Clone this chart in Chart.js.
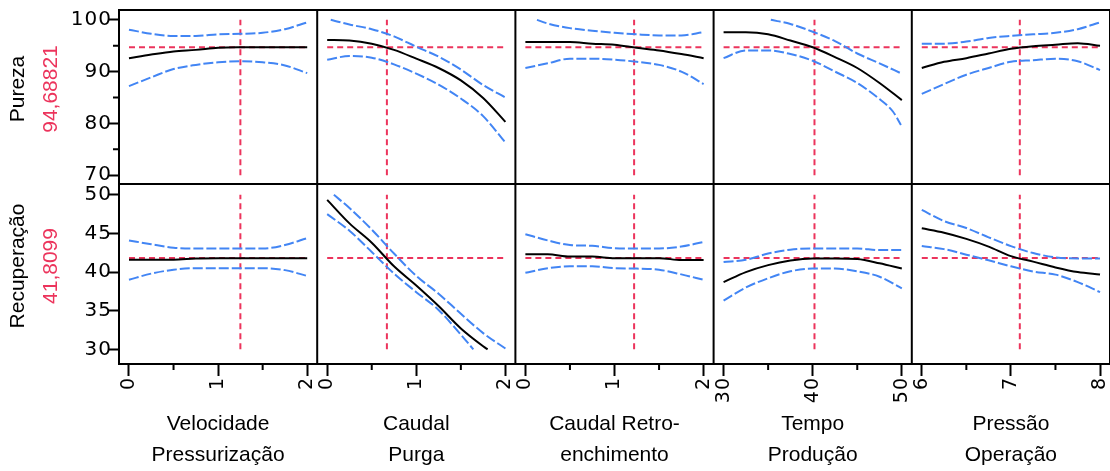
<!DOCTYPE html>
<html>
<head>
<meta charset="utf-8">
<script src="https://cdn.jsdelivr.net/npm/chart.js@4"></script>
<style>
  html, body { margin: 0; padding: 0; background: #fff; }
  #wrap { width: 1110px; height: 471px; position: relative; }
</style>
</head>
<body>
<div id="wrap"><canvas id="profiler" width="1110" height="471"></canvas></div>
<script>
// factors (columns)
const factorNames = [
  ['Velocidade', 'Pressurização'],
  ['Caudal', 'Purga'],
  ['Caudal Retro-', 'enchimento'],
  ['Tempo', 'Produção'],
  ['Pressão', 'Operação']
];
const factorRanges = [[0, 2], [0, 2], [0, 2], [30, 50], [6, 8]];
const factorMajorTicks = [[0, 1, 2], [0, 1, 2], [0, 1, 2], [30, 40, 50], [6, 7, 8]];
const factorMinorTicks = [[0.5, 1.5], [0.5, 1.5], [0.5, 1.5], [35, 45], [6.5, 7.5]];
const factorCurrent = [1.25, 0.67, 1.22, 40.2, 7.1];

// responses (rows)
const responseNames = ['Pureza', 'Recuperação'];
const responseCurrent = [94.68821, 41.8099];
const responseLabels = ['94,68821', '41,8099'];
const responseRanges = [[70, 100], [30, 50]];
const responseMajorTicks = [[70, 80, 90, 100], [30, 35, 40, 45, 50]];
const responseMinorTicks = [[75, 85, 95], []];

// Pureza: prediction and confidence limits, one [x, y] list per factor
const purezaPred = [
  [[0, 92.6], [0.25, 93.3], [0.5, 93.9], [0.75, 94.2], [1, 94.6], [1.25, 94.69], [1.5, 94.7], [1.75, 94.7], [2, 94.7]],
  [[0, 96.1], [0.25, 96.0], [0.5, 95.4], [0.75, 94.2], [1, 92.5], [1.25, 90.7], [1.5, 88.3], [1.75, 84.9], [2, 80.3]],
  [[0, 95.7], [0.25, 95.7], [0.5, 95.7], [0.75, 95.4], [1, 95.2], [1.25, 94.6], [1.5, 94.1], [1.75, 93.4], [2, 92.6]],
  [[30, 97.6], [32.5, 97.6], [35, 97.2], [37.5, 96.0], [40, 94.7], [42.5, 92.8], [45, 90.7], [47.5, 87.8], [50, 84.5]],
  [[6, 90.7], [6.25, 91.9], [6.5, 92.6], [6.75, 93.5], [7, 94.4], [7.25, 94.9], [7.5, 95.2], [7.75, 95.5], [8, 95.0]]
];
const purezaUpper = [
  [[0, 98.1], [0.25, 97.3], [0.5, 96.9], [0.75, 96.9], [1, 97.2], [1.25, 97.3], [1.5, 97.5], [1.75, 98.2], [2, 99.5]],
  [[0.04, 100], [0.25, 99.1], [0.5, 98.2], [0.75, 96.8], [1, 94.8], [1.25, 92.9], [1.5, 90.4], [1.75, 87.4], [2, 85.0]],
  [[0.13, 100], [0.25, 99.3], [0.5, 98.4], [0.75, 97.9], [1, 97.5], [1.25, 97.2], [1.5, 97.0], [1.75, 97.0], [2, 97.6]],
  [[35.3, 100], [37.5, 99.2], [40, 97.7], [42.5, 95.9], [45, 93.5], [47.5, 91.6], [50, 89.6]],
  [[6, 95.4], [6.25, 95.4], [6.5, 95.8], [6.75, 96.5], [7, 96.9], [7.25, 97.2], [7.5, 97.5], [7.75, 98.2], [8, 99.5]]
];
const purezaLower = [
  [[0, 87.2], [0.25, 88.9], [0.5, 90.5], [0.75, 91.3], [1, 91.8], [1.25, 92.0], [1.5, 91.8], [1.75, 91.2], [2, 89.7]],
  [[0, 92.3], [0.25, 93.0], [0.5, 92.7], [0.75, 91.4], [1, 89.6], [1.25, 87.5], [1.5, 84.8], [1.75, 81.4], [2, 76.3]],
  [[0, 90.7], [0.25, 91.6], [0.5, 92.5], [0.75, 92.5], [1, 92.3], [1.25, 91.9], [1.5, 91.3], [1.75, 90.0], [2, 87.6]],
  [[30, 92.6], [32.5, 94.1], [35, 94.1], [37.5, 93.4], [40, 92.1], [42.5, 90.0], [45, 87.8], [47.5, 84.7], [49, 82.3], [49.9, 79.7]],
  [[6, 85.7], [6.25, 87.6], [6.5, 89.4], [6.75, 90.7], [7, 91.9], [7.25, 92.2], [7.5, 92.5], [7.75, 92.0], [8, 90.3]]
];

// Recuperação: prediction and confidence limits
const recupPred = [
  [[0, 41.6], [0.25, 41.6], [0.5, 41.6], [0.75, 41.76], [1, 41.8], [1.25, 41.8], [1.5, 41.8], [1.75, 41.8], [2, 41.8]],
  [[0, 49.35], [0.25, 46.3], [0.5, 43.8], [0.75, 40.75], [1, 38.26], [1.25, 35.6], [1.5, 32.7], [1.75, 30.4], [1.8, 30]],
  [[0, 42.3], [0.25, 42.3], [0.5, 42.0], [0.75, 42.0], [1, 41.8], [1.25, 41.8], [1.5, 41.8], [1.75, 41.55], [2, 41.55]],
  [[30, 38.7], [32.5, 40.0], [35, 40.9], [37.5, 41.5], [40, 41.76], [42.5, 41.76], [45, 41.68], [47.5, 41.14], [50, 40.45]],
  [[6, 45.66], [6.25, 45.1], [6.5, 44.3], [6.75, 43.3], [7, 42.06], [7.25, 41.35], [7.5, 40.6], [7.75, 40.0], [8, 39.7]]
];
const recupUpper = [
  [[0, 44.1], [0.25, 43.6], [0.5, 43.15], [0.75, 43.05], [1, 43.05], [1.25, 43.05], [1.5, 43.05], [1.75, 43.5], [2, 44.4]],
  [[0.075, 50], [0.25, 48.3], [0.5, 45.5], [0.75, 42.4], [1, 39.5], [1.25, 37.2], [1.5, 34.6], [1.75, 32.1], [2, 30.1]],
  [[0, 44.9], [0.25, 44.1], [0.5, 43.5], [0.75, 43.4], [1, 43.1], [1.25, 43.06], [1.5, 43.06], [1.75, 43.3], [2, 43.9]],
  [[30, 41.3], [32.5, 41.6], [35, 42.4], [37.5, 42.9], [40, 43.06], [42.5, 43.06], [45, 43.06], [47.5, 42.85], [50, 42.85]],
  [[6, 48.05], [6.25, 46.6], [6.5, 45.7], [6.75, 44.5], [7, 43.36], [7.25, 42.46], [7.5, 41.9], [7.75, 41.76], [8, 41.76]]
];
const recupLower = [
  [[0, 39.0], [0.25, 39.8], [0.5, 40.3], [0.75, 40.5], [1, 40.5], [1.25, 40.5], [1.5, 40.5], [1.75, 40.25], [2, 39.5]],
  [[0, 47.5], [0.25, 45.35], [0.5, 42.6], [0.75, 39.8], [1, 37.4], [1.25, 35.1], [1.5, 31.9], [1.64, 30]],
  [[0, 39.9], [0.25, 40.5], [0.5, 40.75], [0.75, 40.75], [1, 40.5], [1.25, 40.45], [1.5, 40.3], [1.75, 39.7], [2, 39.0]],
  [[30, 36.3], [32.5, 38.0], [35, 39.2], [37.5, 40.1], [40, 40.45], [42.5, 40.45], [45, 40.1], [47.5, 39.4], [50, 37.9]],
  [[6, 43.36], [6.25, 42.97], [6.5, 42.25], [6.75, 41.52], [7, 40.75], [7.25, 40.07], [7.5, 39.67], [7.75, 38.7], [8, 37.4]]
];

const FONT = '"Liberation Sans", Arial, sans-serif';
const TICK_FONT = '"DejaVu Sans", sans-serif';
const BLUE = 'rgb(66,133,244)';
const RED = 'rgb(236,52,92)';

const curves = [
  [purezaPred, purezaUpper, purezaLower],
  [recupPred, recupUpper, recupLower]
];

function toPoints(list) {
  return list.map(([x, y]) => ({ x, y }));
}

const datasets = [];
responseNames.forEach((resp, r) => {
  const [pred, upper, lower] = curves[r];
  factorNames.forEach((f, i) => {
    const axes = { xAxisID: 'x' + i, yAxisID: 'y' + r };
    datasets.push({
      ...axes, data: toPoints(pred[i]), borderColor: '#000', borderWidth: 2,
      cubicInterpolationMode: 'monotone', order: 0
    });
    [upper[i], lower[i]].forEach(band => datasets.push({
      ...axes, data: toPoints(band), borderColor: BLUE, borderWidth: 2,
      borderDash: [10, 3], cubicInterpolationMode: 'monotone', order: 1
    }));
    // current settings
    datasets.push({
      ...axes,
      data: [{ x: factorRanges[i][0], y: responseCurrent[r] }, { x: factorRanges[i][1], y: responseCurrent[r] }],
      borderColor: RED, borderWidth: 2, borderDash: [6, 4], order: 2
    });
    datasets.push({
      ...axes,
      data: [{ x: factorCurrent[i], y: responseRanges[r][0] }, { x: factorCurrent[i], y: responseRanges[r][1] }],
      borderColor: RED, borderWidth: 2, borderDash: [6, 4], order: 2
    });
  });
});

const scales = {};
factorNames.forEach((title, i) => {
  const [lo, hi] = factorRanges[i];
  const pad = (hi - lo) * 0.056;
  scales['x' + i] = {
    type: 'linear',
    position: 'bottom',
    stack: 'factors',
    stackWeight: 1,
    min: lo - pad,
    max: hi + pad,
    afterBuildTicks: s => { s.ticks = factorMajorTicks[i].map(value => ({ value })); },
    afterFit: s => { s.height = 107; s.paddingLeft = 0; s.paddingRight = 0; },
    // z: 1 puts the axis title after the datasets, once the tick letter spacing is reset
    grid: { drawOnChartArea: false, tickLength: 12, tickWidth: 2, tickColor: '#000', z: 1 },
    border: { display: false },
    ticks: {
      minRotation: 90, maxRotation: 90, autoSkip: false, padding: 1,
      color: '#000', font: { family: TICK_FONT, size: 19 },
      callback: v => String(v)
    },
    title: {
      display: true, text: title, color: '#000', padding: 0,
      font: { family: FONT, size: 21, lineHeight: 1.48 }
    }
  };
});

const responseSpans = [[68.3, 101.9], [28.1, 51.4]];
const responseWeights = [174, 180];
responseNames.forEach((name, r) => {
  scales['y' + r] = {
    type: 'linear',
    position: 'left',
    stack: 'responses',
    stackWeight: responseWeights[r],
    weight: 1 - r,
    min: responseSpans[r][0],
    max: responseSpans[r][1],
    afterBuildTicks: s => { s.ticks = responseMajorTicks[r].map(value => ({ value })); },
    afterFit: s => { s.width = 119; s.paddingTop = 0; s.paddingBottom = 0; },
    grid: { drawOnChartArea: false, tickLength: 11, tickWidth: 2, tickColor: '#000' },
    border: { display: false },
    ticks: { padding: -4, color: '#000', font: { family: TICK_FONT, size: 20 }, callback: v => String(v) }
  };
});

function drawVerticalText(ctx, text, x, y, color) {
  ctx.save();
  ctx.translate(x, y);
  ctx.rotate(-Math.PI / 2);
  ctx.fillStyle = color;
  ctx.font = '21px ' + FONT;
  ctx.textAlign = 'center';
  ctx.textBaseline = 'middle';
  ctx.fillText(text, 0, 0);
  ctx.restore();
}

// panel frames, minor ticks and the response labels on the left
const profilerFrame = {
  id: 'profilerFrame',
  beforeDraw(chart) {
    // slightly wide-set tick numbers
    chart.ctx.letterSpacing = '1px';
  },
  beforeDatasetsDraw(chart) {
    chart.ctx.letterSpacing = '0px';
  },
  afterDraw(chart) {
    const { ctx, chartArea: area } = chart;
    ctx.save();
    ctx.strokeStyle = '#000';
    ctx.lineWidth = 2;
    ctx.beginPath();
    factorNames.forEach((_, i) => {
      const s = chart.scales['x' + i];
      ctx.moveTo(s.left, area.top);
      ctx.lineTo(s.left, area.bottom);
      ctx.moveTo(s.right, area.top);
      ctx.lineTo(s.right, area.bottom);
      factorMinorTicks[i].forEach(v => {
        const px = s.getPixelForValue(v);
        ctx.moveTo(px, s.top);
        ctx.lineTo(px, s.top + 6);
      });
    });
    responseNames.forEach((_, r) => {
      const s = chart.scales['y' + r];
      ctx.moveTo(area.left - 1, s.top);
      ctx.lineTo(area.right, s.top);
      ctx.moveTo(area.left - 1, s.bottom);
      ctx.lineTo(area.right, s.bottom);
      responseMinorTicks[r].forEach(v => {
        const py = s.getPixelForValue(v);
        ctx.moveTo(s.right - 6, py);
        ctx.lineTo(s.right, py);
      });
    });
    ctx.stroke();
    responseNames.forEach((name, r) => {
      const s = chart.scales['y' + r];
      const cy = (s.top + s.bottom) / 2 - 8;
      drawVerticalText(ctx, name, s.left + 18, cy, '#000');
      drawVerticalText(ctx, responseLabels[r], s.left + 51, cy, RED);
    });
    ctx.restore();
  }
};

new Chart(document.getElementById('profiler'), {
  type: 'line',
  data: { datasets },
  options: {
    responsive: false,
    animation: false,
    devicePixelRatio: 1,
    layout: { padding: { top: 10, right: -2, bottom: 0, left: 0 } },
    elements: { point: { radius: 0 }, line: { fill: false } },
    plugins: { legend: { display: false }, tooltip: { enabled: false } },
    scales
  },
  plugins: [profilerFrame]
});
</script>
</body>
</html>
